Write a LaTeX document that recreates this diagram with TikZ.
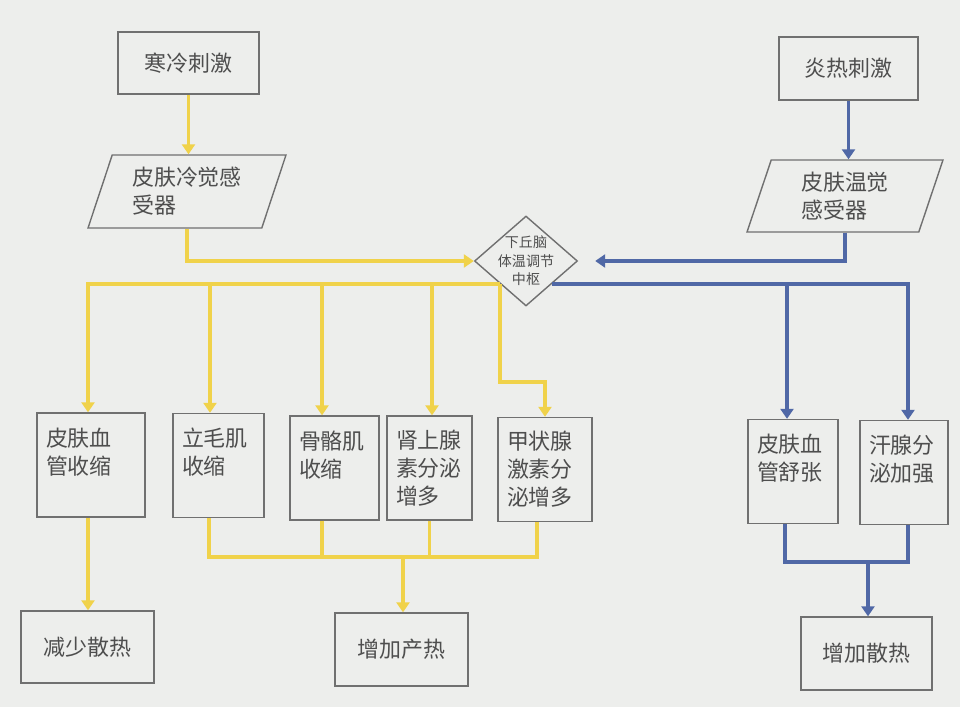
\documentclass[tikz,border=0pt]{standalone}
\usepackage{fontspec}
\newfontfamily\cjk{Noto Sans CJK SC}
\usetikzlibrary{shapes.geometric,arrows.meta}
\definecolor{paper}{HTML}{EDEEEC}
\definecolor{edge}{HTML}{707070}
\definecolor{ink}{HTML}{4E4E4E}
\definecolor{coldline}{HTML}{F0D24A}
\definecolor{warmline}{HTML}{5068A6}
\begin{document}
\begin{tikzpicture}[x=0.02cm,y=-0.02cm,
    every node/.style={font=\cjk\fontsize{12.5}{15.9}\selectfont, text=ink},
    box/.style={draw=edge, line width=0.8pt},
    cell/.style={box, align=left, inner xsep=0.18cm, minimum height=2.08cm},
    slant/.style={box, trapezium, trapezium left angle=68, trapezium right angle=112,
        trapezium stretches body, align=left, minimum width=3.96cm, minimum height=1.46cm},
    yl/.style={draw=coldline, line width=0.07cm},
    bl/.style={draw=warmline, line width=0.07cm},
    tip/.style={-{Triangle[length=0.2cm,width=0.26cm]}}]
    \useasboundingbox (0,0) rectangle (960,720);
    \fill[white] (0,0) rectangle (960,720);
    \fill[paper] (0,0) rectangle (960,707);

    \node[box, minimum width=2.82cm, minimum height=1.24cm] (cold) at (188.5,63) {寒冷刺激};
    \node[box, minimum width=2.78cm, minimum height=1.26cm] (hot) at (848.5,68.5) {炎热刺激};
    \node[slant] (coldsense) at (187,191.5) {皮肤冷觉感\\受器};
    \node[slant, minimum width=3.92cm, minimum height=1.44cm] (hotsense) at (845,196) {皮肤温觉\\感受器};
    \node[box, diamond, minimum width=2.06cm, minimum height=1.8cm, inner sep=0pt, align=center,
        font=\cjk\fontsize{8}{10.5}\selectfont] (centre) at (526,261)
        {\makebox[0pt]{下丘脑}\\\makebox[0pt]{体温调节}\\\makebox[0pt]{中枢}};

    \node[cell, text width=1.80cm] (vaso) at (91,465) {皮肤血\\管收缩\\\mbox{}};
    \node[cell, text width=1.46cm] (pilo) at (218.5,465.5) {立毛肌\\收缩\\\mbox{}};
    \node[cell, text width=1.42cm] (muscle) at (334.5,468) {骨骼肌\\收缩\\\mbox{}};
    \node[cell, text width=1.34cm] (adrenal) at (429.5,468) {肾上腺\\素分泌\\增多};
    \node[cell, text width=1.52cm] (thyroid) at (545,469.5) {甲状腺\\激素分\\泌增多};
    \node[cell, text width=1.44cm] (dilate) at (793,471.5) {皮肤血\\管舒张\\\mbox{}};
    \node[cell, text width=1.40cm] (sweat) at (904,472.5) {汗腺分\\泌加强\\\mbox{}};

    \node[box, minimum width=2.66cm, minimum height=1.44cm] (lessloss) at (87.5,647) {减少散热};
    \node[box, minimum width=2.66cm, minimum height=1.46cm] (moremake) at (401.5,649.5) {增加产热};
    \node[box, minimum width=2.62cm, minimum height=1.46cm] (moreloss) at (866.5,653.5) {增加散热};

    \coordinate (yj) at (403,557);
    \coordinate (hj) at (868,562);

    \draw[yl, tip] (cold.south) -- (cold.south |- coldsense.north);
    \draw[yl, tip] (coldsense.south) |- (centre.west);
    \draw[yl, tip] (centre.south west) -| ([xshift=-0.06cm]vaso.north);
    \draw[yl, tip] ([xshift=-0.17cm]pilo.north |- centre.south west) -- ([xshift=-0.17cm]pilo.north);
    \draw[yl, tip] ([xshift=-0.25cm]muscle.north |- centre.south west) -- ([xshift=-0.25cm]muscle.north);
    \draw[yl, tip] ([xshift=0.05cm]adrenal.north |- centre.south west) -- ([xshift=0.05cm]adrenal.north);
    \draw[yl, tip] (centre.south west) -- ++(0,98) -| (thyroid.north);
    \draw[yl, tip] ([xshift=-0.06cm]vaso.south) -- ([xshift=-0.06cm]vaso.south |- lessloss.north);
    \draw[yl] ([xshift=-0.19cm]pilo.south) |- (yj) -| ([xshift=-0.16cm]thyroid.south);
    \draw[yl] ([xshift=-0.25cm]muscle.south) -- ([xshift=-0.25cm]muscle.south |- yj);
    \draw[yl] (adrenal.south) -- (adrenal.south |- yj);
    \draw[yl, tip] (yj) -- (yj |- moremake.north);

    \draw[bl, tip] (hot.south) -- (hot.south |- hotsense.north);
    \draw[bl, tip, shorten >=0.34cm] (hotsense.south) |- (centre.east);
    \draw[bl, tip] (centre.south east) -| ([xshift=0.08cm]sweat.north);
    \draw[bl, tip] ([xshift=-0.12cm]dilate.north |- centre.south east) -- ([xshift=-0.12cm]dilate.north);
    \draw[bl] ([xshift=-0.16cm]dilate.south) |- (hj) -| ([xshift=0.08cm]sweat.south);
    \draw[bl, tip] (hj) -- (hj |- moreloss.north);
\end{tikzpicture}
\end{document}
